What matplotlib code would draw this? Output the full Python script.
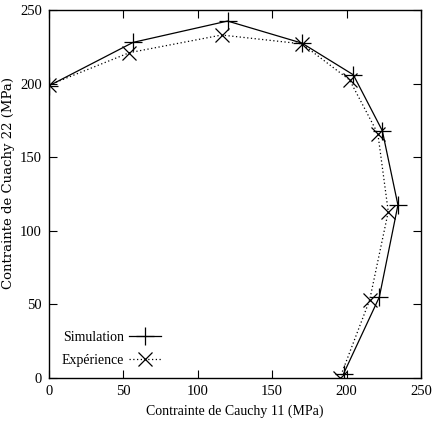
import matplotlib
matplotlib.use("Agg")
import matplotlib.pyplot as plt

sim_x = [0, 56.5, 120, 170, 204.5, 224, 234.5, 222, 198]
sim_y = [198.5, 228, 242.5, 227.5, 206, 168, 117.5, 55, 3]
exp_x = [0, 54, 116, 170, 202, 221, 228, 215.5, 195.5]
exp_y = [199, 221, 233, 227, 202.5, 166, 113, 53, 0]

xticks = [0, 50, 100, 150, 200, 250]
yticks = [0, 50, 100, 150, 200, 250]

plt.rcParams['font.family'] = ['Liberation Serif', 'DejaVu Serif']

fig = plt.figure(figsize=(4.32, 4.30), dpi=100)
ax = fig.add_axes([49/432, 52/430, 372/432, 368/430])

ax.plot(sim_x, sim_y, color='black', lw=0.9, ls='-', marker='+', ms=13, mew=0.9, label='Simulation')
ax.plot(exp_x, exp_y, color='black', lw=0.9, ls=(0, (1, 2)), marker='x', ms=10, mew=0.9, label='Expérience')

ax.set_xlim(0, 250)
ax.set_ylim(0, 250)
ax.set_xticks(xticks)
ax.set_yticks(yticks)
ax.tick_params(direction='in', top=True, right=True, length=6, width=0.8, labelsize=10.5, pad=5)
for s in ax.spines.values():
    s.set_linewidth(1.0)

ax.set_xlabel('Contrainte de Cauchy 11 (MPa)', fontsize=10, labelpad=5)
ax.set_ylabel('Contrainte de Cuachy 22 (MPa)', fontsize=9.5, family=['DejaVu Serif'])
ax.yaxis.label.set_va('center')
ax.yaxis.set_label_coords(-40/372, 0.53)

leg = ax.legend(loc='lower left', bbox_to_anchor=(0.0, -0.005), frameon=False, markerfirst=False,
                fontsize=10, handlelength=2.3, handletextpad=0.4, labelspacing=0.75, borderaxespad=0.5)

fig.savefig('out.png', dpi=100)
